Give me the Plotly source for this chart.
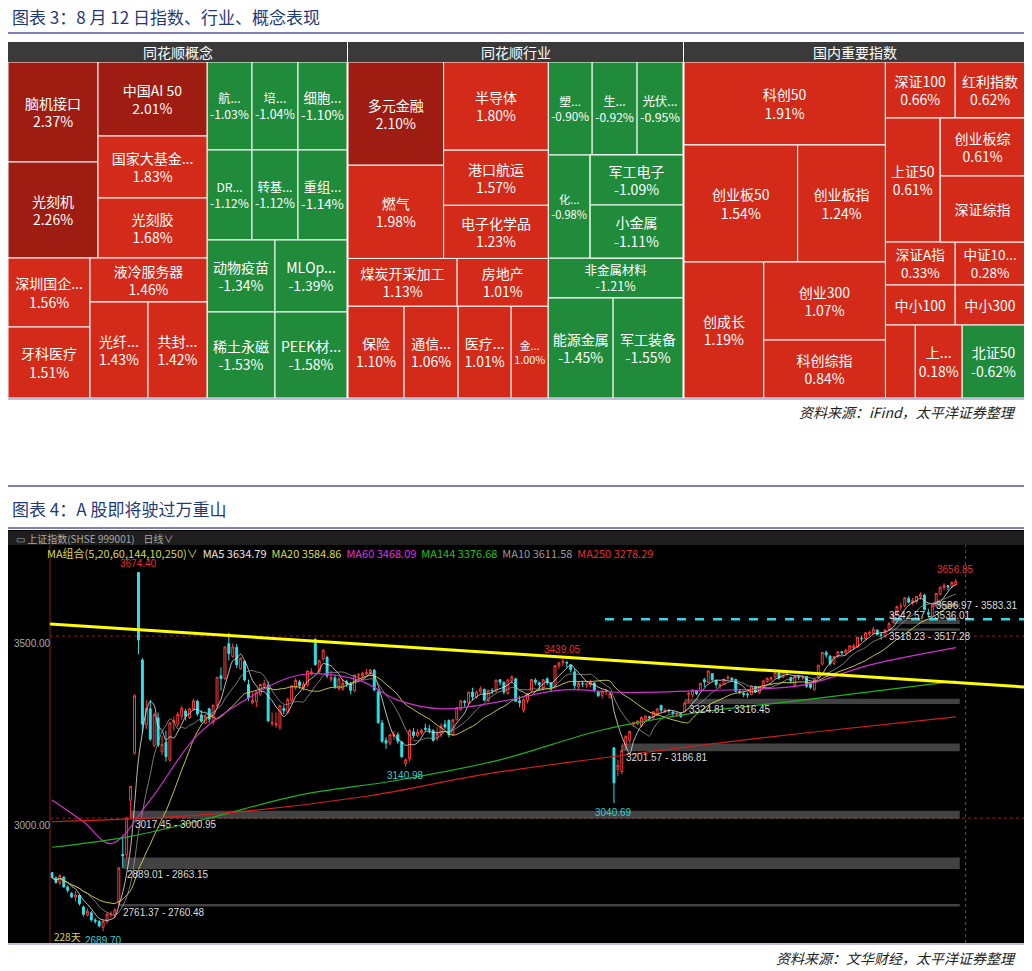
import plotly.graph_objects as go
import pandas as pd

OFF = 8
W, H = 1032 - OFF, 971 - OFF
def px(x): return min(max((x - OFF) / W, 0), 1)
def py(y): return min(max(1 - (y - OFF) / H, 0), 1)

# ---------------- Treemap data (depth-first order; group nodes have no value) ----------------
concept_labels = ["c_L","c_U","c_A","脑机接口","光刻机","c_B","中国AI 50","国家大基金...","光刻胶",
                  "c_D","c_C","深圳国企...","牙科医疗","c_Dc","液冷服务器","c_Dr","光纤...","共封...",
                  "c_R","c_r1","航...","培...","细胞...","c_r2","DR...","转基...","重组...",
                  "c_r3","动物疫苗","MLOp...","c_r4","稀土永磁","PEEK材..."]
concept_parents = ["","c_L","c_U","c_A","c_A","c_U","c_B","c_B","c_B",
                   "c_L","c_D","c_C","c_C","c_D","c_Dc","c_Dc","c_Dr","c_Dr",
                   "","c_R","c_r1","c_r1","c_r1","c_R","c_r2","c_r2","c_r2",
                   "c_R","c_r3","c_r3","c_R","c_r4","c_r4"]
concept_size = [0,0,0,9000,8640,0,8066,6758,6540,
                0,0,5658,5822,0,5148,0,5568,5664,
                0,0,3960,4048,4312,0,4050,4140,4410,
                0,4896,5184,0,5848,6192]
concept_pct = [None,None,None,2.37,2.26,None,2.01,1.83,1.68,
               None,None,1.56,1.51,None,1.46,None,1.43,1.42,
               None,None,-1.03,-1.04,-1.10,None,-1.12,-1.12,-1.14,
               None,-1.34,-1.39,None,-1.53,-1.58]

industry_labels = ["i_L","i_U","i_A","多元金融","燃气","i_Bc","半导体","港口航运","电子化学品",
                   "i_M","煤炭开采加工","房地产","i_B","保险","通信...","医疗...","金...",
                   "i_R","i_r1","塑...","生...","光伏...","i_r2","化...","i_mc","军工电子","小金属",
                   "非金属材料","i_r4","能源金属","军工装备"]
industry_parents = ["","i_L","i_U","i_A","i_A","i_U","i_Bc","i_Bc","i_Bc",
                    "i_L","i_M","i_M","i_L","i_B","i_B","i_B","i_B",
                    "","i_R","i_r1","i_r1","i_r1","i_R","i_r2","i_r2","i_mc","i_mc",
                    "i_R","i_R","i_r4","i_r4"]
industry_size = [0,0,0,9888,8928,0,9240,5775,5565,
                 0,5232,4368,0,5152,4968,4876,3404,
                 0,0,4092,4185,4278,0,4326,0,4650,4929,
                 5400,0,6500,7000]
industry_pct = [None,None,None,2.10,1.98,None,1.80,1.57,1.23,
                None,1.13,1.01,None,1.10,1.06,1.01,1.00,
                None,None,-0.90,-0.92,-0.95,None,-0.98,None,-1.09,-1.11,
                -1.21,None,-1.45,-1.55]

index_labels = ["x_L","科创50","x_r2","创业板50","创业板指","x_r3","创成长","x_c3","创业300","科创综指",
                "x_R","x_s1","深证100","红利指数","x_s2","上证50","x_sc","创业板综","深证综指",
                "x_s3","深证A指","中证10...","x_s4","中小100","中小300","x_s5"," ","上...","北证50"]
index_parents = ["","x_L","x_L","x_r2","x_r2","x_L","x_r3","x_r3","x_c3","x_c3",
                 "","x_R","x_s1","x_s1","x_R","x_s2","x_s2","x_sc","x_sc",
                 "x_R","x_s3","x_s3","x_R","x_s4","x_s4","x_R","x_s5","x_s5","x_s5"]
index_size = [0,16766,0,13338,10296,0,10880,0,9516,7076,
              0,0,3920,3920,0,6820,0,4930,5610,
              0,3010,3010,0,2800,2800,0,2190,3431,4599]
index_pct = [None,1.91,None,1.54,1.24,None,1.19,None,1.07,0.84,
             None,None,0.66,0.62,None,0.61,None,0.61,0.45,
             None,0.33,0.28,None,0.30,0.30,None,0.25,0.18,-0.62]
index_hide_pct = {"深证综指","中小100","中小300"," "}

dark_red_set = {"脑机接口","光刻机","中国AI 50","多元金融"}

fig = go.Figure()

def add_tree(labels, parents, sizes, pcts, x0, x1):
    texts, colors = [], []
    for l, p in zip(labels, pcts):
        if p is None:
            texts.append(""); colors.append("white"); continue
        if l.strip() == "":
            texts.append("")
        elif l in index_hide_pct:
            texts.append(l)
        else:
            texts.append(f"{l}<br>{p:.2f}%")
        colors.append("#9e1c12" if l in dark_red_set else ("#d42a1a" if p >= 0 else "#1f8b3b"))
    fig.add_trace(go.Treemap(
        labels=labels, parents=parents, values=sizes, branchvalues="remainder",
        text=texts, texttemplate="%{text}", textposition="middle center",
        textfont=dict(family="Noto Sans CJK SC", size=14, color="white"),
        marker=dict(colors=colors, line=dict(color="white", width=1), pad=dict(t=0, l=0, r=0, b=0)),
        tiling=dict(packing="slice-dice", pad=0),
        pathbar=dict(visible=False), sort=False, hoverinfo="skip",
        domain=dict(x=[px(x0), px(x1)], y=[py(398), py(62)]),
    ))

add_tree(concept_labels, concept_parents, concept_size, concept_pct, 8, 347)
add_tree(industry_labels, industry_parents, industry_size, industry_pct, 348, 683)
add_tree(index_labels, index_parents, index_size, index_pct, 684, 1025)

shapes, annotations = [], []
def pann(x, y, text, font, xanchor="center"):
    annotations.append(dict(x=px(x), y=py(y), xref="paper", yref="paper", text=text, showarrow=False,
                            xanchor=xanchor, yanchor="middle", font=font))

for (x0, x1, t) in [(8, 347, "同花顺概念"), (348, 683, "同花顺行业"), (684, 1025, "国内重要指数")]:
    shapes.append(dict(type="rect", xref="paper", yref="paper", x0=px(x0), x1=px(x1), y0=py(62), y1=py(42),
                       fillcolor="#3a3a3a", line=dict(width=0)))
    pann((x0 + x1) / 2, 52, t, dict(family="Noto Sans CJK SC", size=14, color="white"))

for yy, wd in [(33, 2), (399, 1), (486, 2), (528, 2), (944, 1)]:
    shapes.append(dict(type="line", xref="paper", yref="paper", x0=px(8), x1=px(1025), y0=py(yy), y1=py(yy),
                       line=dict(color="#7f7fb8", width=wd)))
tfont = dict(family="Noto Sans CJK SC", size=17, color="#1f3a7a")
sfont = dict(family="Noto Sans CJK SC", size=14, color="#222")
pann(10, 16, "图表 3：8 月 12 日指数、行业、概念表现", tfont, "left")
pann(1018, 412, "<i>资料来源：iFind，太平洋证券整理</i>", sfont, "right")
pann(10, 509, "图表 4：A 股即将驶过万重山", tfont, "left")
pann(1018, 958, "<i>资料来源：文华财经，太平洋证券整理</i>", sfont, "right")

# ---------------- Candlestick data ----------------
opens = [2850,2836,2822,2838,2811,2793,2783,2788,2756,2733,
 2740,2720,2716,2700,2716,2735,2736,2770,2900,2899,
 3049,3178,3674.40,3434,3256,3300,3199,3275,3182,3208,
 3159,3262,3258,3280,3294,3276,3299,3321,3283,3260,
 3300,3263,3310,3391,3383,3479,3444,3469,3410,3430,
 3367,3316,3320,3340,3362,3365,3260,3256,3250,3301,
 3291,3323,3358,3374,3357,3366,3397,3491,3402,3438,
 3441,3382,3385,3356,3354,3374,3369,3350,3393,3390,
 3396,3399,3406,3347,3261,3213,3206,3226,3229,3209,
 3150,3162,3237,3226,3235,3247,3245,3240,3220,3230,
 3258,3268,3229,3270,3299,3321,3317,3346,3334,3348,
 3353,3323,3351,3348,3380,3373,3342,3378,3383,3322,
 3296,3323,3350,3379,3372,3358,3383,3371,3362,3418,
 3427,3427,3420,3402,3360,3369,3367,3366,3371,3346,
 3337,3347,3330,3193,3133,3128,3201,3214,3258,3260,
 3254,3270,3278,3275,3283,3310,3292,3295,3291,3285,
 3287,3292,3340,3338,3351,3350,3380,3373,3397,3378,
 3363,3367,3384,3384,3381,3347,3343,3341,3340,3362,
 3345,3362,3375,3382,3387,3400,3386,3397,3386,3365,
 3388,3387,3389,3368,3353,3387,3423,3455,3445,3425,
 3445,3457,3453,3458,3468,3470,3493,3493,3506,3508,
 3516,3503,3499,3518,3538,3559,3582,3583,3603,3592,
 3595,3608,3612,3564,3555,3585,3615,3633,3638,3637,
 3641]
closes = [2837,2823,2842,2811,2802,2784,2789,2765,2736,2744,
 2721,2717,2704,2717,2736,2736,2748,2863,2896,3000,
 3087,3336,3489,3258,3301,3217,3284,3201,3202,3169,
 3261,3268,3285,3302,3280,3300,3322,3286,3266,3279,
 3272,3310,3387,3383,3470,3452,3470,3421,3439,3379,
 3330,3323,3346,3367,3370,3267,3263,3259,3309,3295,
 3326,3363,3378,3364,3368,3404,3402,3422,3432,3461,
 3391,3386,3361,3382,3370,3368,3351,3393,3394,3398,
 3400,3407,3352,3262,3211,3206,3229,3230,3211,3169,
 3160,3240,3227,3236,3241,3244,3242,3213,3231,3253,
 3250,3229,3270,3303,3322,3318,3346,3333,3346,3355,
 3324,3351,3350,3379,3373,3346,3380,3388,3321,3317,
 3325,3342,3381,3373,3366,3380,3372,3358,3419,3426,
 3430,3426,3408,3364,3370,3369,3368,3373,3351,3336,
 3348,3350,3342,3097,3145,3186,3224,3238,3263,3267,
 3276,3280,3277,3292,3300,3296,3297,3295,3288,3287,
 3279,3316,3343,3352,3342,3370,3374,3404,3380,3367,
 3367,3381,3387,3380,3348,3346,3340,3339,3363,3347,
 3361,3377,3384,3385,3399,3385,3402,3402,3377,3389,
 3387,3388,3362,3359,3381,3420,3455,3448,3424,3444,
 3457,3454,3461,3473,3473,3497,3493,3509,3510,3519,
 3505,3503,3517,3534,3560,3581,3582,3605,3593,3597,
 3609,3615,3573,3560,3583,3617,3634,3639,3635,3647,
 3650]
highs = [2852,2840,2846,2840,2815,2797,2800,2790,2760,2752,
 2745,2725,2720,2720,2740,2744,2752,2866,2952,3004,
 3088,3340,3674.40,3440,3324,3324,3290,3290,3226,3240,
 3266,3279,3292,3308,3300,3302,3328,3325,3297,3283,
 3303,3312,3387,3414,3471,3509,3480,3478,3442,3434,
 3380,3345,3350,3368,3380,3375,3290,3290,3310,3310,
 3331,3365,3384,3380,3375,3405,3412,3494,3435,3464,
 3446,3404,3393,3387,3383,3380,3374,3393,3398,3402,
 3410,3410,3410,3353,3270,3222,3230,3240,3236,3212,
 3164,3245,3247,3244,3246,3259,3256,3245,3250,3260,
 3270,3271,3272,3306,3323,3324,3347,3358,3350,3362,
 3356,3353,3357,3380,3381,3375,3381,3392,3384,3336,
 3330,3343,3382,3384,3375,3382,3386,3372,3420,3430,
 3439.05,3432,3421,3410,3375,3376,3372,3380,3373,3350,
 3352,3355,3342,3194,3160,3201.57,3228,3240,3265,3268,
 3279,3282,3281,3294,3301,3310,3301,3300,3294,3290,
 3290,3320,3345,3355,3352,3372,3385,3405,3398,3380,
 3370,3383,3392,3387,3382,3354,3348,3345,3364,3363,
 3363,3379,3386,3389,3400,3401,3404,3404,3388,3392,
 3392,3392,3390,3372,3382,3421,3456,3460,3447,3445,
 3457,3458,3465,3475,3478,3497,3500,3510,3515,3525,
 3519,3510,3519,3538,3561,3582,3592,3606,3609,3605,
 3610,3620,3616,3575,3586.97,3618,3636,3645,3640,3650,
 3656.85]
lows = [2835,2820,2815,2809,2795,2780,2770,2760,2730,2730,
 2715,2710,2700,2689.70,2710,2727,2725,2760.48,2863.15,2889.01,
 3000.95,3174,3450,3235,3245,3212,3196,3195,3174,3155,
 3155,3240,3250,3270,3268,3272,3295,3280,3262,3258,
 3262,3255,3305,3350,3380,3433,3440,3412,3407,3375,
 3322,3312,3305,3335,3354,3263,3252,3248,3242,3285,
 3287,3318,3352,3355,3350,3361,3392,3418,3398,3432,
 3384,3374,3355,3350,3350,3360,3340,3346,3380,3383,
 3392,3392,3348,3259,3206,3190,3200,3215,3204,3165,
 3140.98,3155,3220,3222,3230,3238,3232,3211,3212,3222,
 3245,3222,3227,3268,3295,3306,3310,3324,3328,3342,
 3321,3318,3340,3345,3364,3340,3340,3373,3320,3304,
 3290,3315,3345,3365,3352,3350,3365,3348,3355,3410,
 3418,3413,3400,3355,3352,3360,3358,3360,3345,3333,
 3328,3338,3330,3040.69,3115,3120,3186.81,3205,3250,3255,
 3250,3265,3270,3273,3280,3290,3288,3288,3280,3278,
 3275,3290,3316.45,3332,3338,3350,3360,3370,3375,3358,
 3355,3365,3378,3374,3345,3340,3332,3330,3338,3343,
 3340,3358,3372,3376,3385,3380,3384,3390,3370,3362,
 3380,3380,3358,3355,3350,3385,3420,3440,3420,3420,
 3440,3448,3450,3455,3462,3468,3485,3488,3500,3505,
 3500,3490,3495,3515,3535,3555,3570,3580,3590,3585,
 3590,3600,3570,3550,3550,3583.31,3612,3625,3625,3632,
 3640]
n = len(closes)
idx = list(range(n))

ma60_pts = [(0,3050),(8,2990),(15,2930),(25,3050),(37,3228),(50,3330),(63,3393),(78,3379),(88,3324),(99,3300),
            (114,3320),(130,3352),(145,3345),(165,3350),(191,3365),(208,3420),(230,3468)]
ma144_pts = [(0,2920),(20,2950),(40,3000),(63,3063),(88,3104),(114,3160),(140,3242),(165,3291),(191,3324),(230,3376)]
ma250_pts = [(0,2990),(40,3010),(80,3060),(110,3120),(140,3165),(165,3200),(191,3233),(230,3278)]

bands = [(3000.95,3017.45,20),(2863.15,2889.01,18),(2760.48,2761.37,17),(3186.81,3201.57,145),(3316.45,3324.81,161),
         (3517.28,3518.23,213),(3536.01,3542.57,214),(3583.31,3586.97,224)]
band_labels = [("3017.45 - 3000.95",20,3000.95,"below"),("2889.01 - 2863.15",18,2863.15,"below"),
               ("2761.37 - 2760.48",17,2760.48,"below"),("3201.57 - 3186.81",145,3186.81,"below"),
               ("3324.81 - 3316.45",161,3316.45,"below"),("3542.57 - 3536.01",212,3536.01,"above"),
               ("3518.23 - 3517.28",212,3517.28,"below"),("3586.97 - 3583.31",224,3583.31,"mid")]
extremes = [("3674.40",22,3674.40,"top","#e03030"),("3439.05",130,3439.05,"top","#e03030"),
            ("3656.85",230,3656.85,"top","#e03030"),("3140.98",90,3140.98,"bot","#30d0d0"),
            ("3040.69",143,3040.69,"bot","#30d0d0"),("2689.70",13,2689.70,"bot","#30d0d0")]

s = pd.Series(closes)
ma5 = s.rolling(5, min_periods=1).mean()
ma10 = s.rolling(10, min_periods=1).mean()
ma20 = s.rolling(20, min_periods=1).mean()

YR = [2657, 3728]
XR = [-11.2, 247.6]
ydom = [py(943), py(553)]
xdom = [px(8), px(1025)]

shapes.append(dict(type="rect", xref="paper", yref="paper", x0=px(8), x1=px(1025), y0=py(943), y1=py(530),
                   fillcolor="black", line=dict(width=0), layer="below"))
shapes.append(dict(type="rect", xref="paper", yref="paper", x0=px(8), x1=px(1025), y0=py(545), y1=py(531),
                   fillcolor="#1e1e1e", line=dict(width=0), layer="below"))
for lo, hi, st in bands:
    shapes.append(dict(type="rect", xref="x", yref="y", x0=st, x1=n, y0=lo - 3, y1=hi + 3,
                       fillcolor="rgba(120,120,120,0.55)", line=dict(width=0), layer="below"))
for lv in [3500, 3000]:
    shapes.append(dict(type="line", xref="paper", yref="y", x0=px(50), x1=px(1025), y0=lv, y1=lv,
                       line=dict(color="#8a2020", width=1, dash="dot"), layer="below"))
shapes.append(dict(type="line", xref="paper", yref="paper", x0=px(50), x1=px(50), y0=py(943), y1=py(545),
                   line=dict(color="#8a1a1a", width=1)))
shapes.append(dict(type="line", xref="x", yref="paper", x0=n + 1.5, x1=n + 1.5, y0=py(943), y1=py(545),
                   line=dict(color="#555", width=1, dash="dot")))
shapes.append(dict(type="line", xref="paper", yref="y", x0=px(50), x1=px(1025), y0=3533, y1=3360,
                   line=dict(color="#ffff00", width=3)))
shapes.append(dict(type="line", xref="paper", yref="y", x0=px(605), x1=px(1025), y0=3546, y1=3546,
                   line=dict(color="#33d6e6", width=2.5, dash="dash")))

fig.add_trace(go.Candlestick(x=idx, open=opens, high=highs, low=lows, close=closes,
    increasing=dict(line=dict(color="#ff3b3b", width=1), fillcolor="rgba(0,0,0,0)"),
    decreasing=dict(line=dict(color="#2fe0e8", width=1), fillcolor="#2fe0e8"),
    whiskerwidth=0, hoverinfo="skip", xaxis="x", yaxis="y", showlegend=False))

def line(xv, yv, c, w=1):
    fig.add_trace(go.Scatter(x=xv, y=yv, mode="lines", line=dict(color=c, width=w, shape="spline"),
                             hoverinfo="skip", showlegend=False, xaxis="x", yaxis="y"))
line(idx, ma5, "#e8e8e8", 0.8)
line(idx, ma10, "#9a9a9a", 0.8)
line(idx, ma20, "#d8d84a", 0.9)
line([p[0] for p in ma60_pts], [p[1] for p in ma60_pts], "#d030d0", 1.2)
line([p[0] for p in ma144_pts], [p[1] for p in ma144_pts], "#20b020", 1.2)
line([p[0] for p in ma250_pts], [p[1] for p in ma250_pts], "#d02020", 1.2)

small = dict(family="Liberation Sans Narrow, Arial Narrow, Liberation Sans", size=10)
for t, i, v, pos in band_labels:
    yshift = {"below": -7, "above": 7, "mid": 0}[pos]
    annotations.append(dict(x=i, y=v, xref="x", yref="y", text=t, showarrow=False, xanchor="left", yanchor="middle",
                            yshift=yshift, xshift=2, font=dict(small, color="#dddddd")))
for t, i, v, pos, c in extremes:
    annotations.append(dict(x=i, y=v, xref="x", yref="y", text=t, showarrow=False, yanchor="middle",
                            yshift=9 if pos == "top" else -9, font=dict(small, color=c)))
pann(52, 936, "228天", dict(family="Liberation Sans Narrow, Noto Sans CJK SC", size=10, color="#d8d84a"), "left")
for lv in [3500, 3000]:
    annotations.append(dict(x=px(12), y=lv, xref="paper", yref="y", text=f"{lv:.2f}", showarrow=False,
                            xanchor="left", yanchor="middle", yshift=-7, font=dict(small, color="#aaaaaa")))
pann(14, 538, "▭ 上证指数(SHSE 999001)    日线∨",
     dict(family="Liberation Sans Narrow, Noto Sans CJK SC", size=10, color="#aaaaaa"), "left")
legend_items = [("MA组合(5,20,60,144,10,250)∨", "#d8d84a"), ("MA5 3634.79", "#e8e8e8"), ("MA20 3584.86", "#d8d84a"),
                ("MA60 3468.09", "#e030e0"), ("MA144 3376.68", "#20c020"), ("MA10 3611.58", "#9a9a9a"),
                ("MA250 3278.29", "#e03030")]
legend_text = "  ".join(f"<span style='color:{c}'>{t}</span>" for t, c in legend_items)
pann(45, 553, legend_text, dict(family="Liberation Sans Narrow, Noto Sans CJK SC", size=11, color="#ccc"), "left")

fig.update_layout(
    width=W, height=H, margin=dict(l=0, r=0, t=0, b=0),
    paper_bgcolor="white", plot_bgcolor="rgba(0,0,0,0)",
    xaxis=dict(domain=xdom, range=XR, visible=False, rangeslider=dict(visible=False), fixedrange=True),
    yaxis=dict(domain=ydom, range=YR, visible=False, fixedrange=True),
    shapes=shapes, annotations=annotations, showlegend=False,
)
fig.write_html("out.html")
